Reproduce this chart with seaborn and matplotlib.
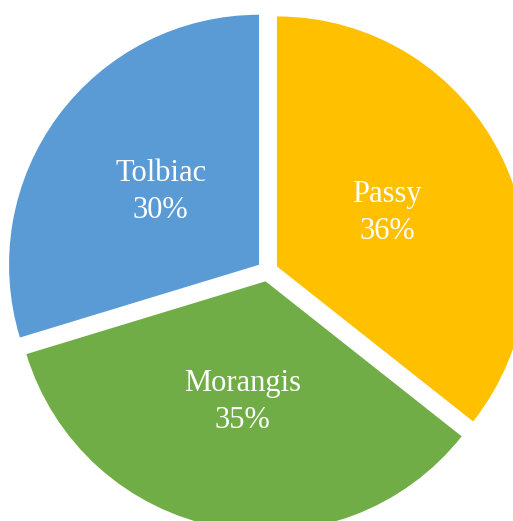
import matplotlib.pyplot as plt
import seaborn as sns

sites = ["Passy", "Morangis", "Tolbiac"]
shares = [36, 35, 30]
colors = ["#FFC000", "#70AD47", "#5B9BD5"]


def main():
    sns.set_theme(style="white")
    plt.rcParams["font.family"] = ["Liberation Serif", "DejaVu Serif"]

    fig = plt.figure(figsize=(5.13, 5.21), dpi=100)
    ax = fig.add_axes([0, 0, 1, 1])

    labels = [f"{s}\n{p}%" for s, p in zip(sites, shares)]
    wedges, texts = ax.pie(
        shares,
        colors=colors,
        startangle=90,
        counterclock=False,
        explode=[0.042] * len(shares),
        labels=labels,
        labeldistance=0.49,
        wedgeprops=dict(linewidth=0),
        textprops=dict(color="white", fontsize=22, ha="center", va="center",
                       linespacing=1.35),
    )
    for t in texts:
        t.set_horizontalalignment("center")

    ax.set_xlim(-1.07, 0.982)
    ax.set_ylim(-1.0, 1.084)
    ax.set_aspect("equal")
    ax.axis("off")

    fig.savefig("out.png", dpi=100, facecolor="white")


if __name__ == "__main__":
    main()
